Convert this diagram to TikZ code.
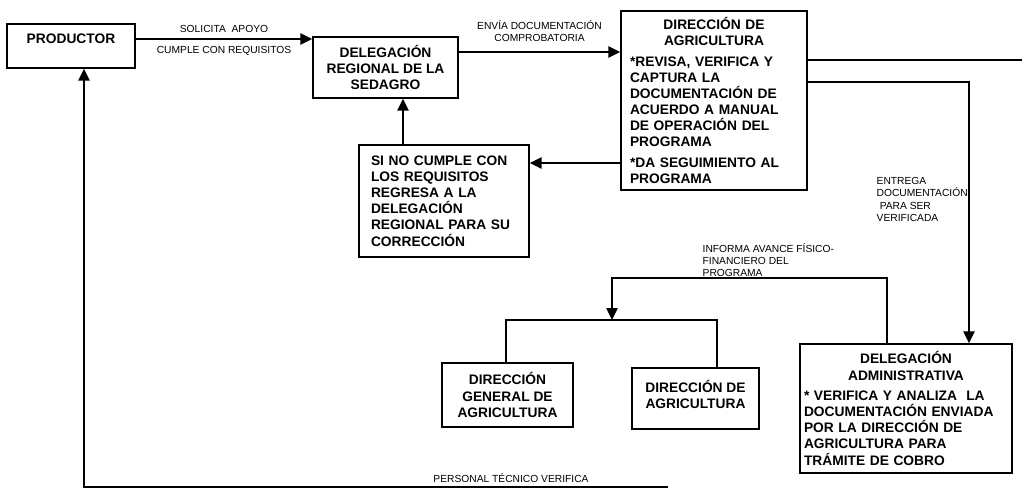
\documentclass[tikz,border=0pt]{standalone}
\usepackage{fontspec}
\setmainfont{Liberation Sans}
\setlength{\parindent}{0pt}
\usetikzlibrary{
    arrows.meta,    % For arrow tips
    positioning     % For relative positioning of labels
}
\tikzset{
    % Style for the boxes of the flow
    box/.style={
        draw,
        line width=0.95pt,
        rectangle,
        inner sep=0pt,
        font=\bfseries\fontsize{9.8}{11.5}\selectfont
    },
    % Style for the small texts beside the connectors
    lbl/.style={
        inner sep=1pt,
        align=center,
        font=\fontsize{7.3}{8.6}\selectfont
    },
    % Style for the connecting arrows
    arrow/.style={
        -{Triangle[length=3mm,width=2.8mm]},
        line width=1.3pt
    },
    % Style for the plain connecting lines
    link/.style={
        line width=1.3pt
    }
}
\begin{document}
\begin{tikzpicture}[x=0.25mm, y=-0.25mm]
    \useasboundingbox (0,0) rectangle (1022,496);

    % --- Top row ---
    \node (prod)   [box, text depth=3.5mm, minimum width=32mm, minimum height=11mm] at (71,46) {PRODUCTOR};
    \node (delreg) [box, align=center, minimum width=36.25mm, minimum height=15.25mm] at (385.5,67.5)
        {DELEGACIÓN\\REGIONAL DE LA\\SEDAGRO};
    \node (dir)    [box, minimum width=46.5mm, minimum height=44.75mm, text width=42mm] at (714,100.5)
        {\centering DIRECCIÓN DE\\AGRICULTURA\par\vspace{3pt}\raggedright
         *REVISA, VERIFICA Y\\CAPTURA LA\\DOCUMENTACIÓN DE\\ACUERDO A MANUAL\\DE OPERACIÓN DEL\\PROGRAMA\par\vspace{3pt}
         *DA SEGUIMIENTO AL\\PROGRAMA};

    % --- Return box ---
    \node (nocump) [box, align=left, minimum width=42.5mm, minimum height=28mm, text width=36.5mm] at (444,201)
        {SI NO CUMPLE CON\\LOS REQUISITOS\\REGRESA A LA\\DELEGACIÓN\\REGIONAL PARA SU\\CORRECCIÓN};

    % --- Bottom row ---
    \node (dgen)  [box, align=center, minimum width=32.75mm, minimum height=16mm] at (507.5,395)
        {DIRECCIÓN\\GENERAL DE\\AGRICULTURA};
    \node (dagr)  [box, minimum width=31.75mm, minimum height=15.25mm] at (695.5,398.5)
        {\raisebox{4.2mm}{\begin{tabular}{@{}c@{}}DIRECCIÓN DE\\AGRICULTURA\end{tabular}}};
    \node (admin) [box, minimum width=53mm, minimum height=32.25mm, text width=51mm] at (906,408.5)
        {\centering DELEGACIÓN\\ADMINISTRATIVA\par\vspace{3pt}\raggedright
         * VERIFICA Y ANALIZA\ \ LA\\DOCUMENTACIÓN ENVIADA\\POR LA DIRECCIÓN DE\\AGRICULTURA PARA\\TRÁMITE DE COBRO};

    % --- Free texts ---
    \node (entrega)  [lbl, align=left, anchor=north west] at (875,176)
        {ENTREGA\\DOCUMENTACIÓN\\\hspace{0.3em}PARA SER\\VERIFICADA};
    \node (informa)  [lbl, align=left, anchor=north west] at (701,242)
        {INFORMA AVANCE FÍSICO-\\FINANCIERO DEL\\PROGRAMA};
    \node (personal) [lbl] at (511,478) {PERSONAL TÉCNICO VERIFICA};

    % --- Bends and free ends ---
    \coordinate (exit) at (1022,60);
    \coordinate (bend) at (612,278);
    \coordinate (join) at (612,320);
    \coordinate (tech) at (668,487);

    % Arrows
    \draw [arrow] (prod.east |- 0,39) --
        node[lbl, above=1mm] {SOLICITA\ \ APOYO}
        node[lbl, below=1.2mm] {CUMPLE CON REQUISITOS} (delreg.west |- 0,39);
    \draw [arrow] (delreg.east |- 0,52) --
        node[lbl, above=2mm] {ENVÍA DOCUMENTACIÓN\\COMPROBATORIA} (dir.west |- 0,52);
    \draw [link]  (dir.east |- 0,60) -- (exit);
    \draw [arrow] (dir.east |- 0,82) -| (admin.north -| 969,0);
    \draw [arrow] (dir.west |- 0,163) -- (nocump.east |- 0,163);
    \draw [arrow] (nocump.north -| 403,0) -- (delreg.south -| 403,0);
    \draw [arrow] (admin.north -| 887,0) |- (bend) -- (join);
    \draw [link]  (dgen.north -| 506,0) |- (join) -| (dagr.north -| 717,0);
    \draw [arrow] (tech) -| (prod.south -| 84,0);
\end{tikzpicture}
\end{document}
